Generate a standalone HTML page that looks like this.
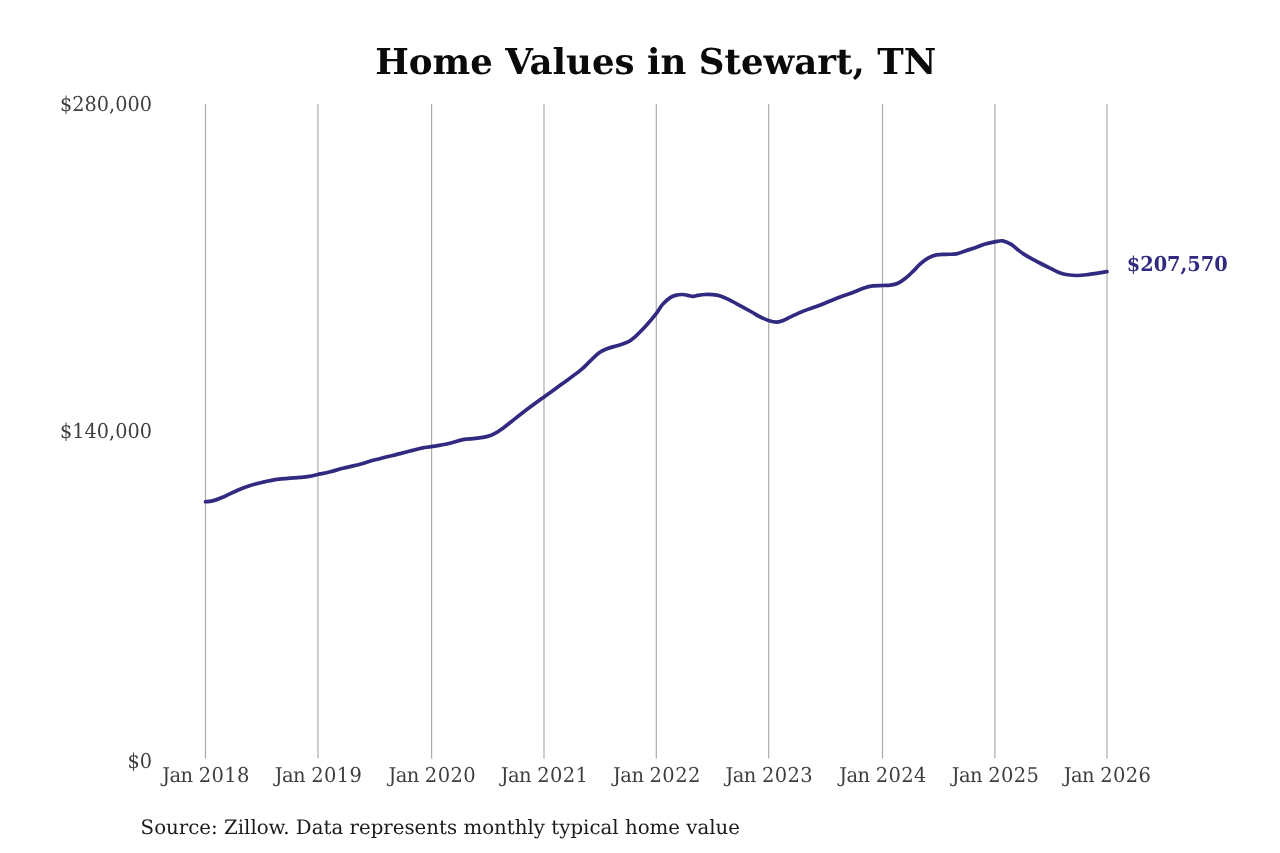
<!DOCTYPE html>
<html lang="en">
<head>
<meta charset="utf-8">
<title>Home Values in Stewart, TN</title>
<style>
html,body{margin:0;padding:0;background:#fff;}
body{width:1280px;height:853px;overflow:hidden;font-family:"DejaVu Serif","Liberation Serif",serif;}
svg{display:block;}
text{font-family:"DejaVu Serif","Liberation Serif",serif;text-rendering:geometricPrecision;}
.title{font-size:35.6px;font-weight:bold;fill:#0a0a0a;text-anchor:start;}
.ax text{font-size:20.4px;fill:#3e3e3e;}
.yl text{text-anchor:end;}
.xl text{text-anchor:middle;}
.grid line{stroke:#a9a9a9;stroke-width:1.15;}
.val{font-size:20.5px;font-weight:bold;fill:#322a80;}
.src{font-size:19.8px;fill:#1a1a1a;}
</style>
</head>
<body>
<svg width="1280" height="853" viewBox="0 0 1280 853">
<rect width="1280" height="853" fill="#ffffff"/>
<text class="title" x="375.2" y="74">Home Values in Stewart, TN</text>
<g class="grid">
<line x1="205.50" y1="103.75" x2="205.50" y2="758.6"/>
<line x1="318.00" y1="103.75" x2="318.00" y2="758.6"/>
<line x1="431.60" y1="103.75" x2="431.60" y2="758.6"/>
<line x1="544.00" y1="103.75" x2="544.00" y2="758.6"/>
<line x1="656.30" y1="103.75" x2="656.30" y2="758.6"/>
<line x1="768.70" y1="103.75" x2="768.70" y2="758.6"/>
<line x1="882.50" y1="103.75" x2="882.50" y2="758.6"/>
<line x1="994.90" y1="103.75" x2="994.90" y2="758.6"/>
<line x1="1107.00" y1="103.75" x2="1107.00" y2="758.6"/>
</g>
<g class="ax yl">
<text transform="translate(152.0,110.6) scale(0.945,1)">$280,000</text>
<text transform="translate(152.0,437.5) scale(0.945,1)">$140,000</text>
<text transform="translate(152.0,767.5) scale(0.945,1)">$0</text>
</g>
<g class="ax xl">
<text transform="translate(206.10,781.5) scale(0.956,1)"><tspan letter-spacing="-0.6">Jan</tspan> <tspan letter-spacing="0.4">2018</tspan></text>
<text transform="translate(318.60,781.5) scale(0.956,1)"><tspan letter-spacing="-0.6">Jan</tspan> <tspan letter-spacing="0.4">2019</tspan></text>
<text transform="translate(432.20,781.5) scale(0.956,1)"><tspan letter-spacing="-0.6">Jan</tspan> <tspan letter-spacing="0.4">2020</tspan></text>
<text transform="translate(544.60,781.5) scale(0.956,1)"><tspan letter-spacing="-0.6">Jan</tspan> <tspan letter-spacing="0.4">2021</tspan></text>
<text transform="translate(656.90,781.5) scale(0.956,1)"><tspan letter-spacing="-0.6">Jan</tspan> <tspan letter-spacing="0.4">2022</tspan></text>
<text transform="translate(769.30,781.5) scale(0.956,1)"><tspan letter-spacing="-0.6">Jan</tspan> <tspan letter-spacing="0.4">2023</tspan></text>
<text transform="translate(883.10,781.5) scale(0.956,1)"><tspan letter-spacing="-0.6">Jan</tspan> <tspan letter-spacing="0.4">2024</tspan></text>
<text transform="translate(995.50,781.5) scale(0.956,1)"><tspan letter-spacing="-0.6">Jan</tspan> <tspan letter-spacing="0.4">2025</tspan></text>
<text transform="translate(1107.60,781.5) scale(0.956,1)"><tspan letter-spacing="-0.6">Jan</tspan> <tspan letter-spacing="0.4">2026</tspan></text>
</g>
<path d="M205.50,501.75 C206.67,501.61 209.23,501.82 212.50,500.90 C215.77,499.97 220.92,497.98 225.10,496.20 C229.28,494.42 233.42,491.98 237.60,490.20 C241.78,488.42 246.02,486.83 250.20,485.50 C254.38,484.17 258.53,483.18 262.70,482.20 C266.87,481.22 271.02,480.23 275.20,479.60 C279.38,478.97 283.62,478.77 287.80,478.40 C291.98,478.03 296.75,477.73 300.30,477.40 C303.85,477.07 306.17,476.88 309.10,476.40 C312.03,475.92 314.35,475.28 317.90,474.50 C321.45,473.72 326.23,472.73 330.40,471.70 C334.57,470.67 337.97,469.53 342.90,468.30 C347.83,467.07 354.63,465.72 360.00,464.30 C365.37,462.88 368.40,461.58 375.10,459.80 C381.80,458.02 393.93,455.17 400.20,453.60 C406.47,452.03 408.95,451.35 412.70,450.40 C416.45,449.45 419.57,448.53 422.70,447.90 C425.83,447.27 427.32,447.28 431.50,446.60 C435.68,445.92 442.57,444.97 447.80,443.80 C453.03,442.63 458.30,440.50 462.90,439.60 C467.50,438.70 471.30,438.93 475.40,438.40 C479.50,437.87 484.23,437.23 487.50,436.40 C490.77,435.57 492.48,434.73 495.00,433.40 C497.52,432.07 499.88,430.35 502.60,428.40 C505.32,426.45 507.75,424.47 511.30,421.70 C514.85,418.93 518.45,415.92 523.90,411.80 C529.35,407.68 537.73,401.58 544.00,397.00 C550.27,392.42 555.45,388.73 561.50,384.30 C567.55,379.87 575.50,374.30 580.30,370.40 C585.10,366.50 587.17,363.85 590.30,360.90 C593.43,357.95 596.17,354.78 599.10,352.70 C602.03,350.62 604.77,349.60 607.90,348.40 C611.03,347.20 614.63,346.53 617.90,345.50 C621.17,344.47 624.65,343.65 627.50,342.20 C630.35,340.75 632.07,339.37 635.00,336.80 C637.93,334.23 641.53,330.70 645.10,326.80 C648.67,322.90 653.48,317.13 656.40,313.40 C659.32,309.67 660.30,307.03 662.60,304.40 C664.90,301.77 667.90,299.15 670.20,297.60 C672.50,296.05 674.32,295.62 676.40,295.10 C678.48,294.58 680.82,294.45 682.70,294.50 C684.58,294.55 686.03,295.08 687.70,295.40 C689.37,295.72 691.03,296.40 692.70,296.40 C694.37,296.40 695.60,295.72 697.70,295.40 C699.80,295.08 702.78,294.62 705.30,294.50 C707.82,294.38 710.30,294.43 712.80,294.70 C715.30,294.97 717.80,295.35 720.30,296.10 C722.80,296.85 724.67,297.70 727.80,299.20 C730.93,300.70 735.12,302.97 739.10,305.10 C743.08,307.23 748.15,310.02 751.70,312.00 C755.25,313.98 757.48,315.55 760.40,317.00 C763.32,318.45 766.48,319.85 769.20,320.70 C771.92,321.55 774.27,322.17 776.70,322.10 C779.13,322.03 781.15,321.33 783.80,320.30 C786.45,319.27 789.25,317.47 792.60,315.90 C795.95,314.33 799.93,312.47 803.90,310.90 C807.87,309.33 812.22,308.07 816.40,306.50 C820.58,304.93 824.82,303.17 829.00,301.50 C833.18,299.83 837.33,298.07 841.50,296.50 C845.67,294.93 850.23,293.53 854.00,292.10 C857.77,290.67 860.95,288.95 864.10,287.90 C867.25,286.85 869.87,286.20 872.90,285.80 C875.93,285.40 879.38,285.60 882.30,285.50 C885.22,285.40 887.80,285.58 890.40,285.20 C893.00,284.82 895.38,284.35 897.90,283.20 C900.42,282.05 902.98,280.27 905.50,278.30 C908.02,276.33 910.58,273.77 913.00,271.40 C915.42,269.03 917.57,266.28 920.00,264.10 C922.43,261.92 924.87,259.83 927.60,258.30 C930.33,256.77 933.27,255.57 936.40,254.90 C939.53,254.23 943.07,254.47 946.40,254.30 C949.73,254.13 953.27,254.47 956.40,253.90 C959.53,253.33 962.07,251.92 965.20,250.90 C968.33,249.88 971.85,248.97 975.20,247.80 C978.55,246.63 982.05,244.88 985.30,243.90 C988.55,242.92 991.78,242.42 994.70,241.90 C997.62,241.38 1000.12,240.42 1002.80,240.80 C1005.48,241.18 1008.20,242.63 1010.80,244.20 C1013.40,245.77 1016.10,248.47 1018.40,250.20 C1020.70,251.93 1022.18,253.07 1024.60,254.60 C1027.02,256.13 1030.05,257.83 1032.90,259.40 C1035.75,260.97 1038.77,262.50 1041.70,264.00 C1044.63,265.50 1047.63,267.00 1050.50,268.40 C1053.37,269.80 1056.03,271.33 1058.90,272.40 C1061.77,273.47 1064.57,274.28 1067.70,274.80 C1070.83,275.32 1074.35,275.53 1077.70,275.50 C1081.05,275.47 1084.45,275.00 1087.80,274.60 C1091.15,274.20 1094.60,273.58 1097.80,273.10 C1101.00,272.62 1105.47,271.93 1107.00,271.70" fill="none" stroke="#322a80" stroke-width="3.7" stroke-linejoin="round" stroke-linecap="round"/>
<text class="val" transform="translate(1126.7,271) scale(0.944,1)">$207,570</text>
<text class="src" x="140.6" y="833.75">Source: Zillow. Data represents monthly typical home value</text>
</svg>
</body>
</html>
